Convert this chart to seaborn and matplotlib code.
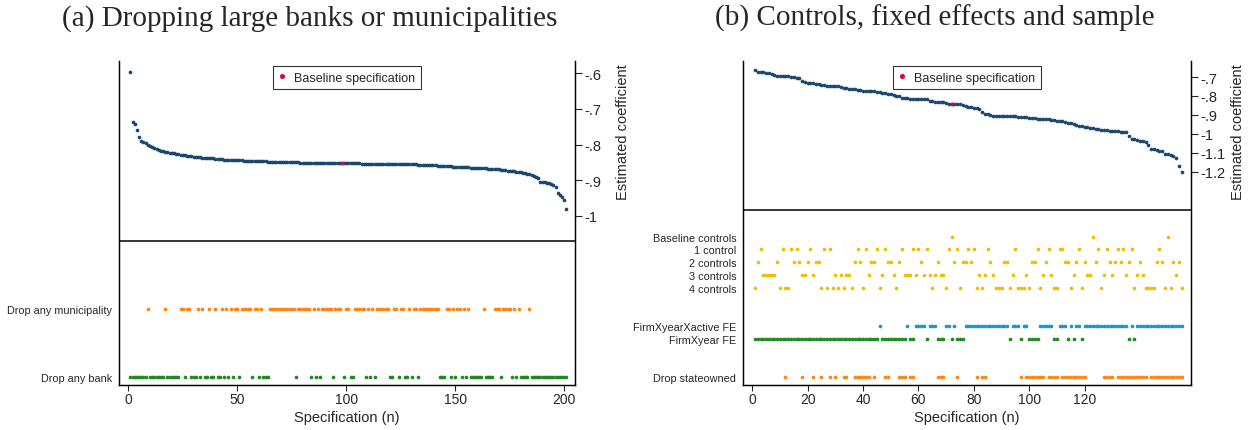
import numpy as np
import pandas as pd
import seaborn as sns
import matplotlib.pyplot as plt
from matplotlib.lines import Line2D

sns.set_style("white")
plt.rcParams['font.family'] = ['Liberation Sans', 'DejaVu Sans']

# ---------------------------------------------------------------------------
# Panel (a): dropping large banks or municipalities (201 specifications)
# ---------------------------------------------------------------------------
coef_a = [
    -0.598, -0.738, -0.743, -0.758, -0.780, -0.790, -0.793, -0.797, -0.800, -0.803,
    -0.806, -0.809, -0.812, -0.815, -0.817, -0.819, -0.820, -0.822, -0.823, -0.824,
    -0.825, -0.826, -0.827, -0.828, -0.829, -0.830, -0.831, -0.832, -0.833, -0.834,
    -0.835, -0.836, -0.836, -0.837, -0.837, -0.838, -0.838, -0.839, -0.839, -0.840,
    -0.840, -0.841, -0.841, -0.842, -0.842, -0.842, -0.843, -0.843, -0.843, -0.844,
    -0.844, -0.844, -0.845, -0.845, -0.845, -0.845, -0.846, -0.846, -0.846, -0.846,
    -0.847, -0.847, -0.847, -0.848, -0.848, -0.848, -0.848, -0.849, -0.849, -0.849,
    -0.849, -0.849, -0.850, -0.850, -0.850, -0.850, -0.850, -0.850, -0.851, -0.851,
    -0.851, -0.851, -0.851, -0.851, -0.851, -0.851, -0.852, -0.852, -0.852, -0.852,
    -0.852, -0.852, -0.852, -0.852, -0.852, -0.852, -0.852, -0.852, -0.853, -0.853,
    -0.853, -0.853, -0.853, -0.853, -0.853, -0.853, -0.854, -0.854, -0.854, -0.854,
    -0.854, -0.854, -0.854, -0.854, -0.855, -0.855, -0.855, -0.855, -0.855, -0.855,
    -0.855, -0.855, -0.855, -0.856, -0.856, -0.856, -0.856, -0.856, -0.856, -0.856,
    -0.856, -0.856, -0.857, -0.857, -0.857, -0.857, -0.857, -0.858, -0.858, -0.858,
    -0.858, -0.859, -0.859, -0.860, -0.860, -0.860, -0.861, -0.861, -0.862, -0.862,
    -0.862, -0.863, -0.863, -0.864, -0.864, -0.864, -0.865, -0.865, -0.865, -0.866,
    -0.866, -0.866, -0.867, -0.867, -0.868, -0.868, -0.869, -0.869, -0.870, -0.870,
    -0.871, -0.871, -0.872, -0.873, -0.874, -0.874, -0.875, -0.876, -0.877, -0.878,
    -0.879, -0.880, -0.882, -0.884, -0.886, -0.888, -0.890, -0.893, -0.904, -0.905,
    -0.906, -0.907, -0.909, -0.911, -0.914, -0.920, -0.936, -0.942, -0.948, -0.955,
    -0.980,
]
baseline_a = 98

drop_muni = [9, 17, 24, 25, 27, 28, 32, 34, 37, 40, 43, 45, 47, 49, 50, 52, 53, 54, 55, 56,
             58, 59, 61, 65, 66, 67, 68, 69, 70, 71, 72, 73, 74, 75, 76, 78, 79, 80, 81, 82,
             83, 85, 87, 89, 90, 91, 92, 93, 95, 96, 97, 100, 101, 104, 105, 106, 107, 108,
             110, 112, 114, 115, 116, 117, 118, 119, 122, 123, 125, 126, 129, 131, 132, 134,
             135, 136, 137, 138, 139, 140, 141, 142, 146, 147, 149, 151, 152, 154, 156, 163,
             168, 169, 170, 172, 173, 174, 175, 177, 179, 184]
drop_bank = [1, 2, 3, 4, 5, 6, 7, 8, 10, 11, 12, 13, 14, 15, 16, 18, 19, 20, 21, 22, 23, 26,
             29, 30, 31, 33, 35, 36, 38, 39, 41, 42, 44, 46, 48, 51, 57, 60, 62, 63, 64, 77,
             84, 86, 88, 94, 99, 102, 103, 109, 111, 113, 120, 121, 124, 127, 128, 130, 133,
             143, 144, 145, 148, 150, 153, 155, 157, 158, 159, 160, 161, 162, 164, 165, 166,
             167, 171, 176, 178, 180, 181, 182, 183, 185, 186, 187, 188, 189, 190, 191, 192,
             193, 194, 195, 196, 197, 198, 199, 200, 201]

rows_a = ["Drop any municipality", "Drop any bank"]

# ---------------------------------------------------------------------------
# Panel (b): controls, fixed effects and sample (155 specifications)
# ---------------------------------------------------------------------------
coef_b = [
    -0.663, -0.674, -0.675, -0.675, -0.676, -0.677, -0.682, -0.687, -0.694, -0.695,
    -0.695, -0.695, -0.696, -0.698, -0.700, -0.703, -0.706, -0.720, -0.726, -0.729,
    -0.731, -0.733, -0.735, -0.738, -0.742, -0.744, -0.745, -0.746, -0.747, -0.748,
    -0.749, -0.752, -0.758, -0.760, -0.762, -0.764, -0.765, -0.766, -0.768, -0.772,
    -0.773, -0.774, -0.775, -0.776, -0.777, -0.779, -0.782, -0.785, -0.788, -0.792,
    -0.795, -0.798, -0.800, -0.812, -0.813, -0.813, -0.814, -0.814, -0.815, -0.815,
    -0.816, -0.817, -0.818, -0.828, -0.829, -0.830, -0.831, -0.832, -0.834, -0.838,
    -0.840, -0.841, -0.842, -0.843, -0.845, -0.846, -0.855, -0.858, -0.860, -0.862,
    -0.866, -0.869, -0.885, -0.893, -0.898, -0.902, -0.905, -0.906, -0.906, -0.907,
    -0.907, -0.907, -0.908, -0.908, -0.908, -0.909, -0.909, -0.910, -0.911, -0.917,
    -0.918, -0.919, -0.920, -0.921, -0.922, -0.923, -0.924, -0.925, -0.927, -0.930,
    -0.932, -0.935, -0.938, -0.941, -0.944, -0.948, -0.956, -0.958, -0.961, -0.963,
    -0.965, -0.967, -0.970, -0.975, -0.977, -0.978, -0.980, -0.982, -0.984, -0.985,
    -0.987, -0.988, -0.989, -0.990, -0.993, -1.010, -1.026, -1.030, -1.033, -1.036,
    -1.039, -1.042, -1.060, -1.080, -1.083, -1.086, -1.089, -1.093, -1.105, -1.108,
    -1.112, -1.116, -1.130, -1.173, -1.204,
]
baseline_b = 72

ctrl_base = [72, 123, 150]
ctrl_1 = [3, 11, 14, 16, 21, 26, 28, 38, 41, 45, 48, 54, 58, 60, 63, 71, 74, 78, 80, 85, 95,
          103, 107, 111, 112, 118, 125, 128, 132, 134, 137, 147]
ctrl_2 = [2, 9, 15, 17, 20, 23, 24, 37, 39, 43, 44, 49, 50, 53, 61, 67, 73, 76, 77, 79, 86, 91,
          92, 101, 102, 106, 113, 114, 117, 120, 124, 129, 131, 133, 136, 140, 146, 148, 152, 154]
ctrl_3 = [4, 5, 6, 7, 8, 18, 19, 22, 30, 32, 34, 35, 42, 47, 51, 55, 56, 57, 59, 62, 64, 66, 68,
          69, 82, 84, 87, 94, 99, 105, 108, 116, 121, 122, 127, 130, 135, 139, 141, 153]
ctrl_4 = [1, 10, 12, 13, 25, 27, 29, 31, 33, 36, 40, 46, 52, 65, 70, 75, 81, 83, 88, 89, 90, 93,
          96, 97, 98, 100, 104, 109, 110, 115, 119, 126, 138, 142, 143, 144, 145, 149, 151, 155]
fe_active = [46, 56, 59, 60, 61, 62, 64, 65, 66, 70, 71, 73, 77, 78, 79, 80, 81, 82, 83, 84, 85,
             86, 87, 88, 89, 90, 91, 92, 94, 95, 96, 98, 99, 104, 105, 106, 107, 108, 111, 112,
             113, 115, 117, 118, 120, 121, 122, 123, 124, 125, 126, 127, 128, 129, 130, 131,
             132, 133, 134, 135, 137, 139, 140, 141, 142, 143, 144, 145, 146, 147, 148, 149,
             150, 151, 152, 153, 154, 155]
fe_year = [1, 2, 3, 4, 5, 6, 7, 8, 9, 10, 11, 12, 13, 14, 15, 16, 17, 18, 19, 20, 21, 22, 23,
           24, 25, 26, 27, 28, 29, 30, 31, 32, 33, 34, 35, 36, 37, 38, 39, 40, 41, 42, 43, 44,
           45, 47, 48, 49, 50, 51, 52, 53, 54, 55, 57, 58, 63, 67, 68, 69, 72, 74, 75, 76, 93,
           97, 100, 101, 102, 103, 109, 110, 114, 116, 119, 136, 138]
drop_state = [12, 18, 22, 25, 28, 30, 33, 34, 37, 38, 39, 40, 41, 42, 44, 48, 49, 53, 54, 55,
              57, 58, 67, 68, 69, 74, 81, 83, 84, 97, 99, 100, 101, 102, 103, 104, 105, 107,
              108, 109, 110, 112, 113, 114, 115, 116, 117, 118, 119, 120, 127, 128, 129, 130,
              132, 133, 134, 135, 136, 137, 138, 139, 140, 141, 142, 144, 145, 146, 147, 148,
              149, 150, 151, 152, 153, 154, 155]

rows_b = ["Baseline controls", "1 control", "2 controls", "3 controls", "4 controls",
          "FirmXyearXactive FE", "FirmXyear FE", "Drop stateowned"]

# colours
NAVY = "#1a476f"
RED = "#e0003c"
ORANGE = "#ff8514"
GREEN = "#1f8a1f"
YELLOW = "#f0be00"
BLUE = "#2192c9"
DOT = 7


def draw_panel(ax, coef, base, rows, row_y, row_colors, line_y, ylim, xlim,
               xticks, cticks, clabels):
    spec = np.arange(1, len(coef) + 1)
    curve = pd.DataFrame({"spec": spec, "coef": coef})
    sns.scatterplot(data=curve, x="spec", y="coef", ax=ax, color=NAVY, s=DOT,
                    linewidth=0, legend=False)
    sns.scatterplot(x=[base], y=[coef[base - 1]], ax=ax, color=RED, s=DOT,
                    linewidth=0, legend=False)

    # indicator rows below the curve
    for (label, idx), y, col in zip(rows, row_y, row_colors):
        d = pd.DataFrame({"spec": idx, "y": [y] * len(idx)})
        sns.scatterplot(data=d, x="spec", y="y", ax=ax, color=col, s=DOT,
                        linewidth=0, legend=False)

    ax.axhline(line_y, color="black", lw=1.1)
    ax.set_xlim(*xlim)
    ax.set_ylim(*ylim)
    ax.set_xticks(xticks)
    ax.set_xlabel("Specification (n)", fontsize=10.5, labelpad=3)
    ax.set_ylabel("")
    ax.set_yticks(row_y)
    ax.set_yticklabels([r[0] for r in rows], fontsize=7.8)
    ax.tick_params(axis="y", length=0, pad=5)
    ax.tick_params(axis="x", length=4, width=0.8, labelsize=10, pad=1,
                   direction="out", bottom=True)

    ax2 = ax.twinx()
    ax2.set_ylim(*ylim)
    ax2.set_yticks(cticks)
    ax2.set_yticklabels(clabels, fontsize=10.5)
    ax2.tick_params(axis="y", length=5, width=0.8, pad=2, direction="out", right=True)
    ax2.set_ylabel("Estimated coefficient", fontsize=10.5)
    ax2.yaxis.set_label_coords(1.09, 0.785)

    for a in (ax, ax2):
        a.spines["top"].set_visible(False)
        for side in ("left", "right", "bottom"):
            a.spines[side].set_color("black")
            a.spines[side].set_linewidth(0.9)

    handle = Line2D([], [], marker="o", color=RED, linestyle="none", markersize=2.6)
    leg = ax2.legend([handle], ["Baseline specification"], loc="upper center",
                     bbox_to_anchor=(0.5, 0.985), frameon=True, fancybox=False,
                     edgecolor="black", fontsize=9, handlelength=0.5,
                     handletextpad=0.7, borderpad=0.45, borderaxespad=0)
    leg.get_frame().set_linewidth(0.8)
    return ax2


fig = plt.figure(figsize=(12.5, 4.31), dpi=100)
ax_a = fig.add_axes([0.0954, 0.1044, 0.3646, 0.7517])
ax_b = fig.add_axes([0.5946, 0.1044, 0.3582, 0.7517])

draw_panel(ax_a, coef_a, baseline_a,
           list(zip(rows_a, [drop_muni, drop_bank])),
           [-1.261, -1.452], [ORANGE, GREEN],
           line_y=-1.071, ylim=(-1.474, -0.566), xlim=(-4.1, 204.9),
           xticks=[0, 50, 100, 150, 200],
           cticks=[-0.6, -0.7, -0.8, -0.9, -1.0],
           clabels=["-.6", "-.7", "-.8", "-.9", "-1"])

draw_panel(ax_b, coef_b, baseline_b,
           list(zip(rows_b, [ctrl_base, ctrl_1, ctrl_2, ctrl_3, ctrl_4,
                             fe_active, fe_year, drop_state])),
           [-1.547, -1.610, -1.679, -1.748, -1.816, -2.017, -2.086, -2.287],
           [YELLOW, YELLOW, YELLOW, YELLOW, YELLOW, BLUE, GREEN, ORANGE],
           line_y=-1.404, ylim=(-2.330, -0.615), xlim=(-3.25, 158.4),
           xticks=[0, 20, 40, 60, 80, 100, 120],
           cticks=[-0.7, -0.8, -0.9, -1.0, -1.1, -1.2],
           clabels=["-.7", "-.8", "-.9", "-1", "-1.1", "-1.2"])

fig.text(0.248, 0.958, "(a) Dropping large banks or municipalities",
         ha="center", va="center", fontsize=21, family="Liberation Serif")
fig.text(0.748, 0.958, "(b) Controls, fixed effects and sample",
         ha="center", va="center", fontsize=21, family="Liberation Serif")

fig.savefig("out.png", dpi=100)
